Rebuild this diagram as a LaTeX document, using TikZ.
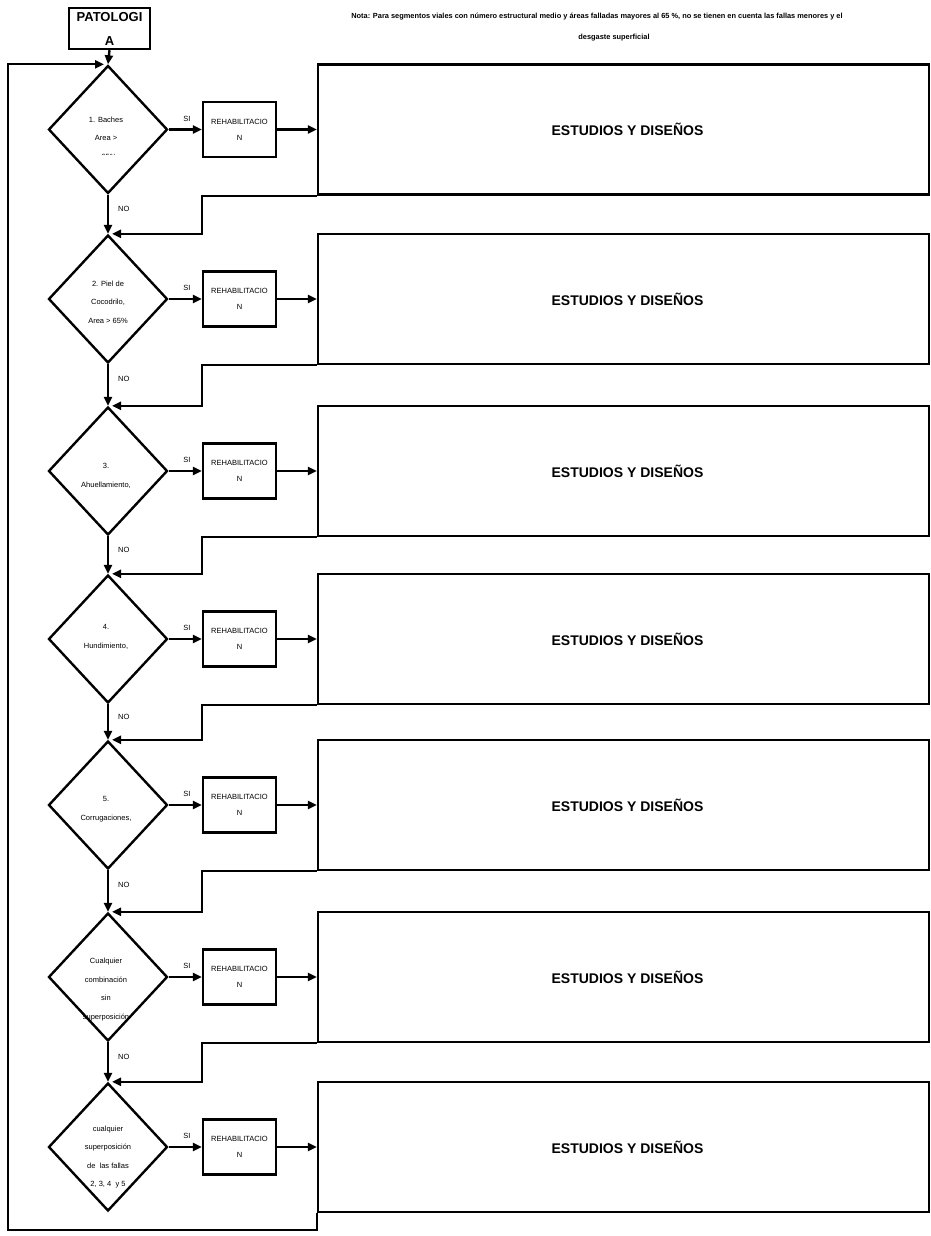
\documentclass[tikz,border=0pt]{standalone}
\usepackage{fontspec}
\setmainfont{Liberation Sans}
\usetikzlibrary{shapes.geometric,arrows.meta}
\begin{document}
\begin{tikzpicture}[x=1pt,y=-1pt,
  ln/.style={line width=2.4pt},
  arr/.style={ln,-{Triangle[length=9pt,width=8pt]}},
  dia/.style={diamond,draw,ln,minimum width=119pt,minimum height=128pt,inner sep=0pt},
  reh/.style={rectangle,draw,ln,minimum width=73pt,minimum height=55pt,inner sep=0pt,font=\fontsize{7.5}{16}\selectfont,align=center},
  est/.style={rectangle,draw,ln,minimum width=611pt,minimum height=130pt,inner sep=0pt,font=\bfseries\fontsize{14}{16}\selectfont},
  dtxt/.style={font=\fontsize{7.5}{18.5}\selectfont,align=center,inner sep=0pt},
  lbl/.style={font=\fontsize{7.5}{9}\selectfont,inner sep=0pt},
  nota/.style={font=\bfseries\fontsize{7.4}{9}\selectfont,inner sep=0pt}
]
\useasboundingbox (0,0) rectangle (931,1236);

% title and note
\node[draw,ln,minimum width=81pt,minimum height=41pt,inner sep=0pt,align=center,
      font=\bfseries\fontsize{13}{24}\selectfont] (pat) at (109.5,28.5) {PATOLOGI\\A};
\node[nota] (nota1) at (597,17) {Nota: Para segmentos viales con número estructural medio y áreas falladas mayores al 65 \%, no se tienen en cuenta las fallas menores y el};
\node[nota] (nota2) at (614,38) {desgaste superficial};

% rows
\foreach \i/\c in {1/129.5,2/299,3/471,4/639,5/805,6/977,7/1147} {
  \node[dia] (d\i) at (108,\c) {};
  \node[reh] (r\i) at (239.5,\c) {REHABILITACIO\\N};
  \node[est] (e\i) at (623.5,\c) {\hspace*{8pt}ESTUDIOS Y DISEÑOS};
  \draw[arr] (d\i.east) -- node[lbl,above=7pt,pos=0.55] (si\i) {SI} (r\i.west);
  \draw[arr] (r\i.east) -- (e\i.west);
}

% NO links and return links
\foreach \i in {1,...,6} {
  \pgfmathtruncatemacro\j{\i+1}
  \draw[arr] (d\i.south) -- node[lbl,right=9pt,pos=0.36] (no\i) {NO} (d\j.north);
  \draw[arr] (e\i.south west) -- (e\i.south west -| r\i.west) |- ([xshift=4pt]d\j.north);
}

% entry and loop
\draw[arr] (pat.south) -- (d1.north);
\coordinate (lb) at (8,1230);
\draw[arr] (e7.south west) |- (lb) |- ([xshift=-4pt]d1.north);

% diamond texts
\node[dtxt] (t1) at (106,129) {1. Baches\\Area >};
\begin{scope}
  \clip (85,148) rectangle (130,154.5);
  \node[dtxt] (t1b) at (109,157) {65\%};
\end{scope}
\node[dtxt] (t2) at (108,302) {2. Piel de\\Cocodrilo,\\Area > 65\%};
\node[dtxt] (t3) at (106,476) {3.\\Ahuellamiento,};
\node[dtxt] (t4) at (106,637) {4.\\Hundimiento,};
\node[dtxt] (t5) at (106,809) {5.\\Corrugaciones,};
\node[dtxt] (t6) at (106,989.5) {Cualquier\\combinación\\sin\\superposición};
\node[dtxt] (t7) at (108,1157) {cualquier\\superposición\\de\ \ las fallas\\2, 3, 4\ \ y 5};
\end{tikzpicture}
\end{document}
